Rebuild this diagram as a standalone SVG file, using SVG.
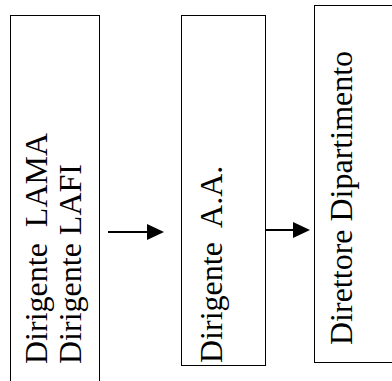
<svg xmlns="http://www.w3.org/2000/svg" width="392" height="381" viewBox="0 0 392 381">
<style>
.box{fill:#fff;stroke:#000;stroke-width:1}
.t{font-family:"Liberation Serif","Times New Roman",serif;font-size:32px;fill:#000}
.c{stroke:#000;stroke-width:2;fill:none}
.h{fill:#000;stroke:none}
</style>
<rect width="392" height="381" fill="#fff"/>
<g id="node-lama-lafi">
<rect class="box" x="10.5" y="15.5" width="89" height="380"/>
<text class="t" transform="translate(46.5,364) rotate(-90)" xml:space="preserve">Dirigente  LAMA</text>
<text class="t" transform="translate(81,364) rotate(-90)">Dirigente LAFI</text>
</g>
<g id="node-aa">
<rect class="box" x="181.5" y="15.5" width="84" height="350"/>
<text class="t" transform="translate(221.5,363) rotate(-90)" xml:space="preserve">Dirigente  A.A.</text>
</g>
<g id="node-direttore">
<rect class="box" x="314.5" y="5.5" width="90" height="357"/>
<text class="t" transform="translate(352,345) rotate(-90)">Direttore Dipartimento</text>
</g>
<g id="connectors">
<line class="c" x1="108" y1="232" x2="148" y2="232"/>
<path class="h" d="M147,224 L164,232 L147,240 Z"/>
<line class="c" x1="265" y1="230" x2="294" y2="230"/>
<path class="h" d="M293,222 L310,230 L293,238 Z"/>
</g>
</svg>
